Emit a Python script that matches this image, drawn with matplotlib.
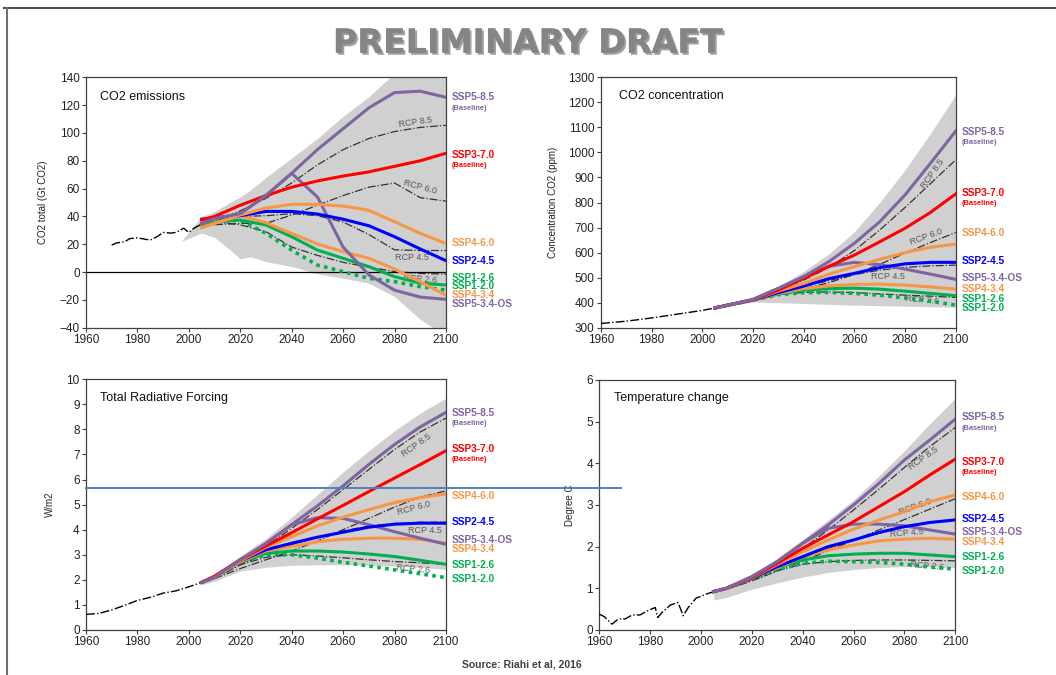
import matplotlib
matplotlib.use('Agg')
import matplotlib.pyplot as plt
import matplotlib.patheffects as pe
from matplotlib.lines import Line2D

plt.rcParams['font.family'] = ['Liberation Sans', 'DejaVu Sans']

# model years used by all SSP / RCP curves
years = [2005, 2010, 2020, 2030, 2040, 2050, 2060, 2070, 2080, 2090, 2100]
ssp_names = ['SSP5-8.5', 'SSP3-7.0', 'SSP4-6.0', 'SSP2-4.5', 'SSP5-3.4-OS',
             'SSP4-3.4', 'SSP1-2.6', 'SSP1-2.0']
rcp_names = ['RCP 8.5', 'RCP 6.0', 'RCP 4.5', 'RCP 2.6']

# ---- CO2 emissions (Gt CO2)
emis_hist_years = [1970, 1972, 1975, 1977, 1980, 1983, 1985, 1988, 1990, 1993, 1995, 1998, 2000, 2002, 2005]
emis_hist = [19.4, 21, 21.7, 24, 24.6, 23.6, 23, 25.8, 28.5, 28, 28.5, 31.5, 28.5, 31.5, 34.5]
emis_ssp585 = [35, 38.5, 42, 55, 71, 88, 103, 118, 129, 130, 125.6]
emis_ssp370 = [37.5, 40, 48, 55, 61, 65.5, 69, 72, 76, 80, 85.4]
emis_ssp460 = [32, 35, 41, 46, 48.7, 48.7, 47.5, 44.4, 36.2, 27.8, 20.6]
emis_ssp245 = [38, 39, 40.5, 43.6, 43.6, 41.7, 38, 33.3, 25.4, 16.6, 8.2]
emis_ssp534 = [35, 38.5, 42, 55, 71, 54, 18, -2, -13, -18, -19.6]
emis_ssp434 = [32, 35, 40.5, 35.5, 27.8, 20.2, 14.7, 9.9, 2.2, -7, -16.6]
emis_ssp126 = [34.5, 36, 37.4, 33.8, 25.4, 15.8, 9.9, 3.9, -3.3, -8, -9.3]
emis_ssp119 = [34.5, 36, 37.4, 27.8, 15.8, 5, 0.3, -4.5, -6.9, -10.5, -13]
emis_rcp85 = [33, 36, 44, 53, 64, 77, 88, 96, 101, 104, 105.5]
emis_rcp60 = [33, 34, 35, 35, 41, 48, 55, 61, 64, 53.5, 51]
emis_rcp45 = [33, 36, 40, 40.5, 42, 40.5, 36, 27, 16, 15.5, 15.5]
emis_rcp26 = [33, 36, 34, 29, 18, 12, 7, 3.5, 0.4, -1, -1.5]
emis_env_years = [1997, 2005, 2010, 2016, 2020, 2024, 2030, 2040, 2050, 2060, 2070, 2080, 2090, 2100]
emis_env_hi = [22, 40, 43.5, 50, 54, 59, 68, 82, 96, 112, 126, 143, 160, 176]
emis_env_lo = [22, 28, 25, 16, 9.5, 11, 7.5, 4, -1.3, -4.4, -8, -17.6, -34, -46]

# ---- CO2 concentration (ppm)
conc_hist_years = [1960, 1970, 1980, 1990, 2000, 2005]
conc_hist = [317, 326, 339, 354, 369, 379]
conc_ssp585 = [379, 390, 413, 457, 504, 564, 637, 723, 830, 956, 1085]
conc_ssp370 = [379, 390, 412, 450, 497, 545, 590, 643, 697, 760, 834]
conc_ssp460 = [379, 390, 412, 446, 477, 514, 544, 573, 600, 621, 634]
conc_ssp245 = [379, 390, 411, 440, 466, 496, 517, 540, 555, 561, 561]
conc_ssp534 = [379, 390, 413, 457, 504, 545, 561, 552, 534, 514, 493]
conc_ssp434 = [379, 390, 410, 437, 456, 467, 473, 474, 470, 463, 454]
conc_ssp126 = [379, 390, 410, 435, 450, 456, 458, 454, 446, 437, 428]
conc_ssp119 = [379, 390, 410, 432, 440, 441, 437, 430, 419, 406, 390]
conc_rcp85 = [379, 390, 412, 449, 490, 541, 608, 690, 780, 875, 970]
conc_rcp60 = [379, 390, 408, 434, 455, 480, 513, 553, 598, 640, 680]
conc_rcp45 = [379, 390, 411, 437, 465, 488, 512, 530, 541, 547, 550]
conc_rcp26 = [379, 390, 410, 432, 441, 443, 440, 435, 430, 426, 421]
conc_env_hi = [381, 394, 420, 465, 525, 595, 683, 800, 930, 1075, 1230]
conc_env_lo = [375, 386, 403, 400, 397, 393, 390, 388, 386, 384, 382]

# ---- Total radiative forcing (W/m2)
rf_hist_years = [1960, 1965, 1970, 1975, 1980, 1985, 1990, 1995, 2000, 2005]
rf_hist = [0.62, 0.66, 0.8, 0.98, 1.18, 1.3, 1.47, 1.56, 1.72, 1.9]
rf_ssp585 = [1.9, 2.1, 2.8, 3.45, 4.2, 4.95, 5.75, 6.6, 7.4, 8.1, 8.68]
rf_ssp370 = [1.9, 2.15, 2.8, 3.35, 3.88, 4.43, 4.97, 5.52, 6.06, 6.6, 7.15]
rf_ssp460 = [1.9, 2.1, 2.75, 3.3, 3.72, 4.15, 4.5, 4.8, 5.08, 5.28, 5.43]
rf_ssp245 = [1.9, 2.1, 2.75, 3.2, 3.46, 3.7, 3.9, 4.1, 4.22, 4.26, 4.26]
rf_ssp534 = [1.9, 2.1, 2.8, 3.45, 4.2, 4.48, 4.45, 4.2, 3.92, 3.66, 3.42]
rf_ssp434 = [1.9, 2.1, 2.72, 3.15, 3.33, 3.52, 3.62, 3.66, 3.66, 3.62, 3.46]
rf_ssp126 = [1.9, 2.1, 2.72, 3.05, 3.15, 3.15, 3.11, 3.03, 2.93, 2.78, 2.62]
rf_ssp119 = [1.9, 2.1, 2.72, 3.0, 3.0, 2.87, 2.7, 2.55, 2.4, 2.24, 2.09]
rf_rcp85 = [1.9, 2.1, 2.7, 3.35, 4.05, 4.8, 5.6, 6.4, 7.2, 7.9, 8.45]
rf_rcp60 = [1.9, 2.05, 2.45, 2.8, 3.15, 3.55, 4.0, 4.45, 4.9, 5.3, 5.55]
rf_rcp45 = [1.9, 2.05, 2.6, 3.05, 3.4, 3.7, 3.95, 4.15, 4.25, 4.3, 4.3]
rf_rcp26 = [1.9, 2.1, 2.6, 2.9, 3.0, 2.95, 2.88, 2.8, 2.73, 2.68, 2.62]
rf_env_hi = [2.0, 2.2, 2.95, 3.65, 4.5, 5.4, 6.3, 7.15, 7.95, 8.65, 9.25]
rf_env_lo = [1.8, 1.95, 2.35, 2.5, 2.58, 2.6, 2.6, 2.58, 2.55, 2.5, 2.42]

# ---- Temperature change (degree C)
temp_hist_years = [1960, 1962, 1965, 1967, 1969, 1970, 1973, 1976, 1979, 1982, 1983, 1985, 1988, 1991, 1993, 1995, 1998, 2002, 2005]
temp_hist = [0.38, 0.32, 0.14, 0.24, 0.28, 0.26, 0.36, 0.36, 0.46, 0.54, 0.30, 0.44, 0.60, 0.66, 0.34, 0.54, 0.76, 0.86, 0.92]
temp_ssp585 = [0.92, 1.0, 1.28, 1.64, 2.08, 2.52, 3.0, 3.52, 4.08, 4.56, 5.06]
temp_ssp370 = [0.92, 1.0, 1.26, 1.6, 1.96, 2.28, 2.6, 2.96, 3.32, 3.72, 4.1]
temp_ssp460 = [0.92, 1.0, 1.25, 1.57, 1.88, 2.16, 2.42, 2.64, 2.84, 3.08, 3.24]
temp_ssp245 = [0.92, 1.0, 1.24, 1.52, 1.76, 2.0, 2.16, 2.34, 2.48, 2.58, 2.64]
temp_ssp534 = [0.92, 1.0, 1.28, 1.64, 2.08, 2.44, 2.54, 2.54, 2.5, 2.4, 2.3]
temp_ssp434 = [0.92, 1.0, 1.24, 1.5, 1.75, 1.92, 2.04, 2.14, 2.18, 2.2, 2.18]
temp_ssp126 = [0.92, 1.0, 1.24, 1.5, 1.68, 1.78, 1.82, 1.84, 1.84, 1.8, 1.76]
temp_ssp119 = [0.92, 1.0, 1.22, 1.45, 1.6, 1.65, 1.64, 1.62, 1.58, 1.51, 1.46]
temp_rcp85 = [0.92, 0.98, 1.22, 1.55, 1.95, 2.4, 2.88, 3.38, 3.9, 4.4, 4.86]
temp_rcp60 = [0.92, 0.98, 1.18, 1.42, 1.65, 1.9, 2.15, 2.4, 2.65, 2.9, 3.15]
temp_rcp45 = [0.92, 0.98, 1.2, 1.47, 1.72, 1.95, 2.15, 2.32, 2.47, 2.58, 2.66]
temp_rcp26 = [0.92, 0.98, 1.18, 1.42, 1.58, 1.64, 1.67, 1.68, 1.68, 1.67, 1.66]
temp_env_hi = [0.96, 1.04, 1.32, 1.72, 2.17, 2.64, 3.12, 3.7, 4.3, 4.95, 5.56]
temp_env_lo = [0.72, 0.78, 0.98, 1.13, 1.27, 1.38, 1.45, 1.5, 1.52, 1.52, 1.5]

PURPLE = '#8064A2'
RED = '#FF0000'
ORANGE = '#F79646'
BLUE = '#0000FF'
GREEN = '#00B050'
ssp_colors = [PURPLE, RED, ORANGE, BLUE, PURPLE, ORANGE, GREEN, GREEN]


def draw_panel(ax, title, ylabel, ylim, yticks, hist_x, hist_y, env_x, env_hi, env_lo,
               ssp, rcp, title_xy, ylabel_x, labels, rcp_labels):
    ax.fill_between(env_x, env_lo, env_hi, color='#d0d0d0', lw=0, zorder=1)
    ax.plot(hist_x, hist_y, color='black', lw=1.0, ls='-.', zorder=3)
    for vals in rcp:
        ax.plot(years, vals, color='#333333', lw=0.9, ls='-.', zorder=2)
    # draw the SSP marker curves, bottom ones first
    for i in reversed(range(len(ssp))):
        if i == 7:
            ax.plot(years, ssp[i], color=ssp_colors[i], lw=2.6, ls=(0, (1, 1.2)), zorder=4)
        else:
            ax.plot(years, ssp[i], color=ssp_colors[i], lw=2.2, zorder=4 + (8 - i) * 0.01)

    ax.set_xlim(1960, 2100)
    ax.set_ylim(*ylim)
    ax.set_xticks(range(1960, 2101, 20))
    ax.set_yticks(yticks)
    ax.tick_params(direction='out', length=3, width=0.8, labelsize=8.5, colors='#404040',
                   labelcolor='#222222', pad=1.5)
    for s in ax.spines.values():
        s.set_color('#404040')
        s.set_linewidth(0.9)
    ax.set_ylabel(ylabel, fontsize=7, color='#222222')
    ax.yaxis.set_label_coords(ylabel_x, 0.5)
    ax.text(title_xy[0], title_xy[1], title, transform=ax.transAxes, fontsize=9,
            color='#111111', va='center', ha='left')

    tr = ax.get_yaxis_transform()
    for text, col, y, big in labels:
        ax.text(1.017, y, text, transform=tr, color=col, fontsize=7.3 if big else 5.3,
                fontweight='bold', va='center', ha='left', clip_on=False)
    for text, x, y, rot in rcp_labels:
        ax.text(x, y, text, color='#595959', fontsize=6.5, rotation=rot,
                ha='center', va='center', rotation_mode='anchor', zorder=3.5)


fig = plt.figure(figsize=(10.56, 6.75), dpi=100)

ax1 = fig.add_axes([0.0814, 0.5145, 0.3409, 0.371])
draw_panel(ax1, 'CO2 emissions', 'CO2 total (Gt CO2)', (-40, 140), range(-40, 141, 20),
           emis_hist_years, emis_hist, emis_env_years, emis_env_hi, emis_env_lo,
           [emis_ssp585, emis_ssp370, emis_ssp460, emis_ssp245, emis_ssp534,
            emis_ssp434, emis_ssp126, emis_ssp119],
           [emis_rcp85, emis_rcp60, emis_rcp45, emis_rcp26],
           (0.039, 0.921), -0.106,
           [('SSP5-8.5', PURPLE, 125.6, True), ('(Baseline)', PURPLE, 117.7, False),
            ('SSP3-7.0', RED, 83.9, True), ('(Baseline)', RED, 76.7, False),
            ('SSP4-6.0', ORANGE, 21.1, True), ('SSP2-4.5', BLUE, 8.2, True),
            ('SSP1-2.6', GREEN, -4.2, True), ('SSP1-2.0', GREEN, -10.3, True),
            ('SSP4-3.4', ORANGE, -16.8, True), ('SSP5-3.4-OS', PURPLE, -23, True)],
           [('RCP 8.5', 2088.3, 107.9, 8), ('RCP 6.0', 2089.9, 61.1, -15),
            ('RCP 4.5', 2086.8, 10.8, 0), ('RCP 2.6', 2089.9, -5, -5)])
ax1.axhline(0, color='black', lw=0.9, zorder=2.5)

ax2 = fig.add_axes([0.5691, 0.5145, 0.3359, 0.371])
draw_panel(ax2, 'CO2 concentration', 'Concentration CO2 (ppm)', (300, 1300), range(300, 1301, 100),
           conc_hist_years, conc_hist, years, conc_env_hi, conc_env_lo,
           [conc_ssp585, conc_ssp370, conc_ssp460, conc_ssp245, conc_ssp534,
            conc_ssp434, conc_ssp126, conc_ssp119],
           [conc_rcp85, conc_rcp60, conc_rcp45, conc_rcp26],
           (0.051, 0.926), -0.121,
           [('SSP5-8.5', PURPLE, 1083, True), ('(Baseline)', PURPLE, 1040, False),
            ('SSP3-7.0', RED, 837, True), ('(Baseline)', RED, 797, False),
            ('SSP4-6.0', ORANGE, 679, True), ('SSP2-4.5', BLUE, 565, True),
            ('SSP5-3.4-OS', PURPLE, 497, True), ('SSP4-3.4', ORANGE, 456, True),
            ('SSP1-2.6', GREEN, 413, True), ('SSP1-2.0', GREEN, 377, True)],
           [('RCP 8.5', 2091, 914, 55), ('RCP 6.0', 2088.3, 662, 20),
            ('RCP 4.5', 2073.3, 506, 0), ('RCP 2.6', 2086.7, 411, -5)])

ax3 = fig.add_axes([0.0814, 0.0667, 0.3409, 0.3714])
draw_panel(ax3, 'Total Radiative Forcing', 'W/m2', (0, 10), range(0, 11),
           rf_hist_years, rf_hist, years, rf_env_hi, rf_env_lo,
           [rf_ssp585, rf_ssp370, rf_ssp460, rf_ssp245, rf_ssp534,
            rf_ssp434, rf_ssp126, rf_ssp119],
           [rf_rcp85, rf_rcp60, rf_rcp45, rf_rcp26],
           (0.039, 0.927), -0.086,
           [('SSP5-8.5', PURPLE, 8.64, True), ('(Baseline)', PURPLE, 8.22, False),
            ('SSP3-7.0', RED, 7.23, True), ('(Baseline)', RED, 6.81, False),
            ('SSP4-6.0', ORANGE, 5.36, True), ('SSP2-4.5', BLUE, 4.30, True),
            ('SSP5-3.4-OS', PURPLE, 3.58, True), ('SSP4-3.4', ORANGE, 3.24, True),
            ('SSP1-2.6', GREEN, 2.58, True), ('SSP1-2.0', GREEN, 2.05, True)],
           [('RCP 8.5', 2088.4, 7.38, 35), ('RCP 6.0', 2087.3, 4.87, 15),
            ('RCP 4.5', 2092, 3.95, 0), ('RCP 2.6', 2087.3, 2.43, -5)])

ax4 = fig.add_axes([0.5675, 0.0667, 0.3371, 0.3704])
draw_panel(ax4, 'Temperature change', 'Degree C', (0, 6), range(0, 7),
           temp_hist_years, temp_hist, years, temp_env_hi, temp_env_lo,
           [temp_ssp585, temp_ssp370, temp_ssp460, temp_ssp245, temp_ssp534,
            temp_ssp434, temp_ssp126, temp_ssp119],
           [temp_rcp85, temp_rcp60, temp_rcp45, temp_rcp26],
           (0.041, 0.929), -0.068,
           [('SSP5-8.5', PURPLE, 5.10, True), ('(Baseline)', PURPLE, 4.84, False),
            ('SSP3-7.0', RED, 4.04, True), ('(Baseline)', RED, 3.78, False),
            ('SSP4-6.0', ORANGE, 3.2, True), ('SSP2-4.5', BLUE, 2.66, True),
            ('SSP5-3.4-OS', PURPLE, 2.36, True), ('SSP4-3.4', ORANGE, 2.12, True),
            ('SSP1-2.6', GREEN, 1.76, True), ('SSP1-2.0', GREEN, 1.41, True)],
           [('RCP 8.5', 2087.3, 4.13, 35), ('RCP 6.0', 2084.1, 2.95, 20),
            ('RCP 4.5', 2081, 2.33, 5), ('RCP 2.6', 2088.8, 1.54, -5)])

# page frame (top and left edge only) and the blue marker line
fig.add_artist(Line2D([4 / 1056, 1], [0.988, 0.988], color='#505050', lw=1.5))
fig.add_artist(Line2D([7 / 1056, 7 / 1056], [0.988, 0.0], color='#707070', lw=1.5))
fig.add_artist(Line2D([0.0814, 0.588], [0.277, 0.277], color='#4F81BD', lw=1.4))

fig.text(0.5005, 0.936, 'PRELIMINARY DRAFT', fontsize=24, fontweight='heavy',
         family='DejaVu Sans', color='#858585', ha='center', va='center',
         path_effects=[pe.withSimplePatchShadow(offset=(1.5, -1.5), shadow_rgbFace='#444444', alpha=0.5),
                       pe.Normal()])
fig.text(0.494, 0.015, 'Source: Riahi et al, 2016', fontsize=7.5, fontweight='bold',
         color='#404040', ha='center', va='center')

fig.savefig('out.png', dpi=100)
